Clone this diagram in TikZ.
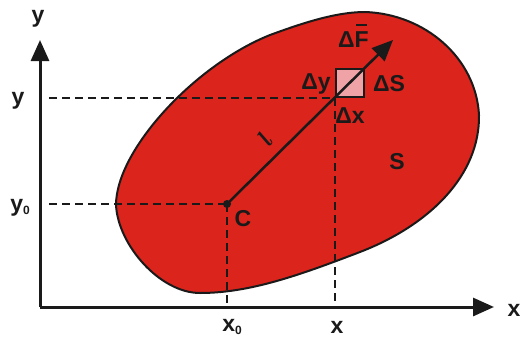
\documentclass[tikz,border=0pt]{standalone}
\usepackage{fontspec}
\setmainfont{Liberation Sans}
\usetikzlibrary{arrows.meta}
\definecolor{blobred}{HTML}{DA241C}
\definecolor{sqpink}{HTML}{F0A3A6}
\definecolor{ink}{HTML}{1A1A1A}
\tikzset{
  lbl/.style={font=\fontsize{23}{26}\selectfont\bfseries, text=ink, inner sep=0pt},
  axis/.style={line width=3pt, draw=ink, -{Triangle[length=21pt,width=18pt]}},
  guide/.style={line width=2pt, draw=ink, dash pattern=on 8pt off 5pt},
}
\begin{document}
\begin{tikzpicture}[x=1pt,y=-1pt]
\useasboundingbox (0,0) rectangle (522,340);
% region S
\draw[line width=2pt, draw=ink, fill=blobred]
 (365,12) .. controls (425,14) and (476,58) .. (479,115)
 .. controls (480,175) and (430,225) .. (360,252)
 .. controls (300,275) and (250,293) .. (200,293)
 .. controls (160,293) and (118,245) .. (116,205)
 .. controls (116,150) and (195,65) .. (270,35)
 .. controls (300,24) and (335,12) .. (365,12) -- cycle;
% coordinates
\coordinate (O) at (40,307);
\coordinate (YT) at (40,40);
\coordinate (XT) at (494,307);
\coordinate (C) at (227,204);
\coordinate (P) at (335,98);
\coordinate (Y0L) at (49,204);
\coordinate (YL) at (49,98);
\coordinate (X0B) at (227,307);
\coordinate (XB) at (335,307);
\coordinate (T) at (393,40);
% small area
\node[draw=ink, line width=2pt, fill=sqpink, minimum size=28pt, inner sep=0pt, anchor=south west] (dS) at (P) {};
% guides
\draw[guide] (Y0L) -- (C);
\draw[guide] (YL) -- (P);
\draw[guide] (C) -- (X0B);
\draw[guide] (P) -- (XB);
% axes
\draw[axis] (O) -- (YT);
\draw[axis] (O) -- (XT);
% vector
\draw[line width=2.5pt, draw=ink, -{Triangle[length=21pt,width=18pt]}] (C) -- (T);
\fill[ink] (C) circle (4pt);
% labels
\node[lbl] (ly) at (38,19) {y};
\node[lbl] (lx) at (514,310) {x};
\node[lbl] (lyv) at (18,101) {y};
\node[lbl] (ly0) at (20,208) {y\raisebox{-3pt}{\fontsize{12}{12}\selectfont 0}};
\node[lbl] (lx0) at (232,327) {x\raisebox{-3pt}{\fontsize{12}{12}\selectfont 0}};
\node[lbl] (lxv) at (337,327) {x};
\node[lbl] (lC) at (243,219) {C};
\node[lbl] (lS) at (397,162) {S};
\node[lbl] (ldS) at (389,84) {ΔS};
\node[lbl] (ldy) at (316,84) {Δy};
\node[lbl] (ldx) at (350,116) {Δx};
\node[lbl, anchor=base west] (ldF) at (338,47) {Δ\rlap{\hspace{1.5pt}\rule[21pt]{11pt}{2pt}}F};
\node[text=ink, inner sep=0pt, rotate=55, font=\fontsize{25}{25}\selectfont\boldmath] (ll) at (265,139) {$l$};
\end{tikzpicture}
\end{document}
